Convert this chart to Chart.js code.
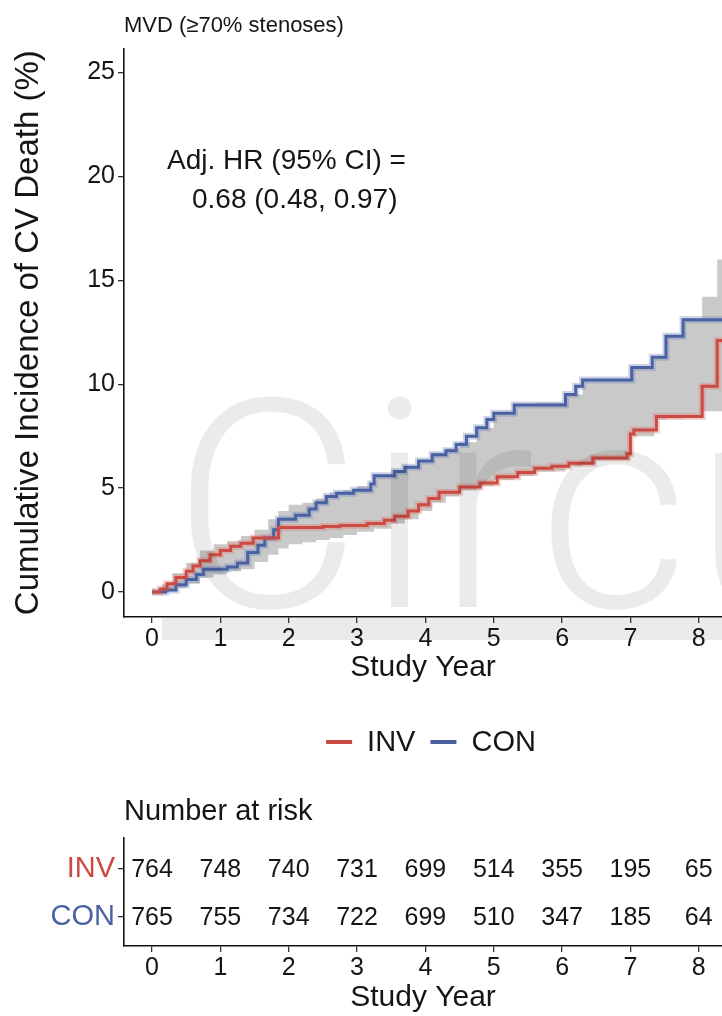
<!DOCTYPE html>
<html>
<head>
<meta charset="utf-8">
<title>MVD - cumulative incidence of CV death</title>
<script src="https://cdn.jsdelivr.net/npm/chart.js@4.4.1/dist/chart.umd.min.js"></script>
<style>
  html, body { margin: 0; padding: 0; background: #fff; }
  #wrap { position: relative; width: 722px; height: 1016px; overflow: hidden; }
  #curveChart { position: absolute; left: 0; top: 0; }
  #riskChart { position: absolute; left: 0; top: 780px; }
</style>
</head>
<body>
<div id="wrap">
  <canvas id="curveChart" width="722" height="780"></canvas>
  <canvas id="riskChart" width="722" height="236"></canvas>
</div>
<script>
// groups and axis ticks
const groups = ["INV", "CON"];
const xTicks = [0, 1, 2, 3, 4, 5, 6, 7, 8];
const yTicks = [0, 5, 10, 15, 20, 25];

// cumulative incidence (%) step curves, value holds from each time on
const invTime = [0, 0.12, 0.22, 0.35, 0.5, 0.6, 0.7, 0.85, 1.0, 1.15, 1.3, 1.48, 1.85, 2.5, 2.75, 3.15, 3.4, 3.55, 3.75, 3.9, 4.05, 4.2, 4.5, 4.8, 5.05, 5.35, 5.6, 5.85, 6.1, 6.45, 6.95, 7.0, 7.05, 7.38, 8.05, 8.27, 8.4];
const invCum  = [0, 0.15, 0.4, 0.7, 1.0, 1.25, 1.5, 1.8, 2.0, 2.2, 2.35, 2.6, 3.1, 3.15, 3.2, 3.3, 3.45, 3.65, 3.9, 4.2, 4.5, 4.8, 5.05, 5.25, 5.55, 5.75, 5.95, 6.05, 6.2, 6.45, 6.65, 7.6, 7.8, 8.45, 9.9, 12.1, 12.1];
const conTime = [0, 0.2, 0.35, 0.5, 0.65, 0.75, 1.1, 1.25, 1.4, 1.55, 1.65, 1.78, 1.85, 2.1, 2.3, 2.4, 2.55, 2.7, 2.95, 3.2, 3.25, 3.55, 3.7, 3.9, 4.1, 4.3, 4.45, 4.6, 4.75, 4.9, 5.0, 5.3, 6.05, 6.2, 6.3, 7.02, 7.32, 7.52, 7.77, 8.4];
const conCum  = [0, 0.1, 0.35, 0.6, 0.85, 1.1, 1.2, 1.4, 1.9, 2.25, 2.6, 3.0, 3.5, 3.7, 4.0, 4.3, 4.6, 4.75, 4.9, 5.2, 5.6, 5.8, 6.0, 6.3, 6.6, 6.8, 7.1, 7.5, 7.9, 8.3, 8.6, 9.0, 9.5, 9.9, 10.2, 10.8, 11.3, 12.3, 13.1, 13.1];

// shaded band (lower / upper, %)
const bandTime = [0, 0.15, 0.3, 0.5, 0.7, 0.9, 1.1, 1.3, 1.5, 1.7, 1.85, 2.0, 2.2, 2.4, 2.6, 2.8, 3.0, 3.25, 3.5, 3.7, 3.9, 4.1, 4.3, 4.5, 4.75, 5.0, 5.3, 5.6, 6.05, 6.3, 6.5, 7.0, 7.35, 7.52, 7.77, 8.05, 8.27, 8.4];
const bandLow  = [0, 0.05, 0.2, 0.4, 0.7, 0.85, 1.0, 1.1, 1.45, 1.8, 2.1, 2.3, 2.4, 2.5, 2.6, 2.75, 2.9, 3.05, 3.3, 3.5, 3.9, 4.3, 4.6, 4.9, 5.1, 5.4, 5.6, 5.8, 6.05, 6.15, 6.35, 7.5, 8.3, 8.35, 8.4, 8.7, 8.7, 8.7];
const bandHigh = [0, 0.4, 0.9, 1.4, 2.0, 2.3, 2.45, 2.7, 3.0, 3.5, 3.9, 4.2, 4.3, 4.5, 4.8, 4.9, 5.1, 5.6, 5.85, 6.05, 6.35, 6.7, 6.9, 7.2, 7.9, 8.6, 9.0, 9.1, 9.5, 10.2, 10.2, 10.8, 11.3, 12.3, 13.1, 14.2, 16.0, 16.0];

// number at risk per study year
const riskInv = [764, 748, 740, 731, 699, 514, 355, 195, 65];
const riskCon = [765, 755, 734, 722, 699, 510, 347, 185, 64];

const family = '"Liberation Sans", Arial, Helvetica, sans-serif';
Chart.defaults.font.family = family;
Chart.defaults.color = "#151515";

const colors = { INV: "#cc4a42", CON: "#4a62a2" };
const halos = { INV: "rgba(222,120,110,0.35)", CON: "rgba(110,130,185,0.35)" };
const X_MIN = -0.41, X_MAX = 8.34;

const toPoints = (t, v) => t.map((x, i) => ({ x: x, y: v[i] }));

// year axis shared by both charts
function yearAxis(height, titlePad) {
  return {
    type: "linear",
    min: X_MIN,
    max: X_MAX,
    afterBuildTicks: s => { s.ticks = xTicks.map(v => ({ value: v })); },
    afterFit: s => { s.height = height; },
    ticks: { font: { size: 25 }, color: "#151515", padding: 1, maxRotation: 0 },
    grid: { drawOnChartArea: false, drawTicks: true, tickLength: 6, color: "#333", lineWidth: 1.3 },
    border: { display: true, color: "#111", width: 1.6 },
    title: { display: true, text: "Study Year", font: { size: 30 }, color: "#151515", padding: { top: 0, bottom: titlePad } }
  };
}

// HR annotation, anchored in data units
const hrNote = ["Adj. HR (95% CI) =", "0.68 (0.48, 0.97)"];
const hrAnchor = [{ x: 0.22, y: 20.7 }, { x: 0.585, y: 18.85 }];

const hrText = {
  id: "hrText",
  afterDatasetsDraw(chart) {
    const { ctx, scales: { x, y } } = chart;
    ctx.save();
    ctx.font = "28px " + family;
    ctx.fillStyle = "#151515";
    ctx.textBaseline = "middle";
    hrNote.forEach((line, i) => {
      ctx.fillText(line, x.getPixelForValue(hrAnchor[i].x), y.getPixelForValue(hrAnchor[i].y));
    });
    ctx.restore();
  }
};

// journal watermark laid over the panel
const watermark = {
  id: "watermark",
  afterDraw(chart) {
    const { ctx, chartArea: a } = chart;
    ctx.save();
    ctx.fillStyle = "rgba(0,0,0,0.08)";
    ctx.font = '300 292px Roboto, "Open Sans", sans-serif';
    ctx.letterSpacing = "5px";
    ctx.textBaseline = "alphabetic";
    ctx.fillText("Circulation", a.left + 48, a.bottom - 10);
    ctx.letterSpacing = "0px";
    ctx.fillRect(a.left + 38, a.bottom + 1, a.right - a.left, 22);
    ctx.restore();
  }
};

// line-key legend under the x axis
const keyLegend = {
  id: "keyLegend",
  afterDraw(chart) {
    const { ctx, chartArea: a } = chart;
    ctx.save();
    ctx.font = "29px " + family;
    ctx.textBaseline = "middle";
    const dash = 26, gap = 15;
    const widths = groups.map(g => dash + gap + ctx.measureText(g).width);
    const total = widths.reduce((s, w) => s + w, 0) + gap * (groups.length - 1);
    let cx = (a.left + a.right) / 2 + 8 - total / 2;
    const cy = a.bottom + 125;
    groups.forEach((g, i) => {
      ctx.strokeStyle = colors[g];
      ctx.lineWidth = 4;
      ctx.beginPath();
      ctx.moveTo(cx, cy);
      ctx.lineTo(cx + dash, cy);
      ctx.stroke();
      ctx.fillStyle = "#151515";
      ctx.fillText(g, cx + dash + gap, cy + 1);
      cx += widths[i] + gap;
    });
    ctx.restore();
  }
};

const stepLine = (label, t, v, color, width, order) => ({
  label: label,
  data: toPoints(t, v),
  borderColor: color,
  borderWidth: width,
  stepped: true,
  pointRadius: 0,
  fill: false,
  order: order
});

new Chart(document.getElementById("curveChart"), {
  type: "line",
  data: {
    datasets: [
      stepLine("INV", invTime, invCum, colors.INV, 3, 0),
      stepLine("CON", conTime, conCum, colors.CON, 3, 0),
      stepLine("INV halo", invTime, invCum, halos.INV, 7, 1),
      stepLine("CON halo", conTime, conCum, halos.CON, 7, 1),
      stepLine("band low", bandTime, bandLow, "rgba(0,0,0,0)", 0, 2),
      Object.assign(stepLine("band high", bandTime, bandHigh, "rgba(0,0,0,0)", 0, 2), {
        fill: "-1",
        backgroundColor: "#c9c9c9"
      })
    ]
  },
  options: {
    responsive: false,
    animation: false,
    events: [],
    layout: { padding: { left: 0, right: 0, top: 0, bottom: 88 } },
    scales: {
      x: yearAxis(75, 6),
      y: {
        type: "linear",
        min: -1.2,
        max: 26.15,
        afterBuildTicks: s => { s.ticks = yTicks.map(v => ({ value: v })); },
        afterFit: s => { s.width = 124; },
        ticks: { font: { size: 25 }, color: "#151515", padding: 3 },
        grid: { drawOnChartArea: false, drawTicks: true, tickLength: 6, color: "#333", lineWidth: 1.3 },
        border: { display: true, color: "#111", width: 1.6 },
        title: { display: true, text: "Cumulative Incidence of CV Death (%)", font: { size: 33 }, color: "#151515", padding: { top: 9, bottom: 0 } }
      }
    },
    plugins: {
      legend: { display: false },
      tooltip: { enabled: false },
      title: {
        display: true,
        text: "MVD (≥70% stenoses)",
        align: "start",
        fullSize: false,
        color: "#151515",
        font: { size: 22, weight: "normal" },
        padding: { top: 13, bottom: 9 }
      }
    }
  },
  plugins: [hrText, watermark, keyLegend]
});

// number-at-risk table
const rowY = [1, 0];
const riskRows = [riskInv, riskCon];

const riskNumbers = {
  id: "riskNumbers",
  afterDatasetsDraw(chart) {
    const { ctx, scales: { x, y } } = chart;
    ctx.save();
    ctx.font = "25px " + family;
    ctx.fillStyle = "#151515";
    ctx.textAlign = "center";
    ctx.textBaseline = "middle";
    chart.data.datasets.forEach(ds => {
      ds.data.forEach(p => ctx.fillText(String(p.n), x.getPixelForValue(p.x), y.getPixelForValue(p.y) + 1));
    });
    ctx.restore();
  }
};

new Chart(document.getElementById("riskChart"), {
  type: "scatter",
  data: {
    datasets: groups.map((g, gi) => ({
      label: g,
      data: xTicks.map((t, i) => ({ x: t, y: rowY[gi], n: riskRows[gi][i] })),
      pointRadius: 0,
      showLine: false
    }))
  },
  options: {
    responsive: false,
    animation: false,
    events: [],
    layout: { padding: 0 },
    scales: {
      x: yearAxis(70, 0),
      y: {
        type: "linear",
        min: -0.6,
        max: 1.65,
        afterBuildTicks: s => { s.ticks = rowY.map(v => ({ value: v })); },
        afterFit: s => { s.width = 124; },
        ticks: {
          font: { size: 29 },
          padding: 3,
          callback: v => groups[rowY.indexOf(v)],
          color: c => colors[groups[rowY.indexOf(c.tick.value)]]
        },
        grid: { drawOnChartArea: false, drawTicks: true, tickLength: 6, color: "#333", lineWidth: 1.3 },
        border: { display: true, color: "#111", width: 1.6 }
      }
    },
    plugins: {
      legend: { display: false },
      tooltip: { enabled: false },
      title: {
        display: true,
        text: "Number at risk",
        align: "start",
        fullSize: false,
        color: "#151515",
        font: { size: 29, weight: "normal" },
        padding: { top: 15, bottom: 8 }
      }
    }
  },
  plugins: [riskNumbers]
});
</script>
</body>
</html>
